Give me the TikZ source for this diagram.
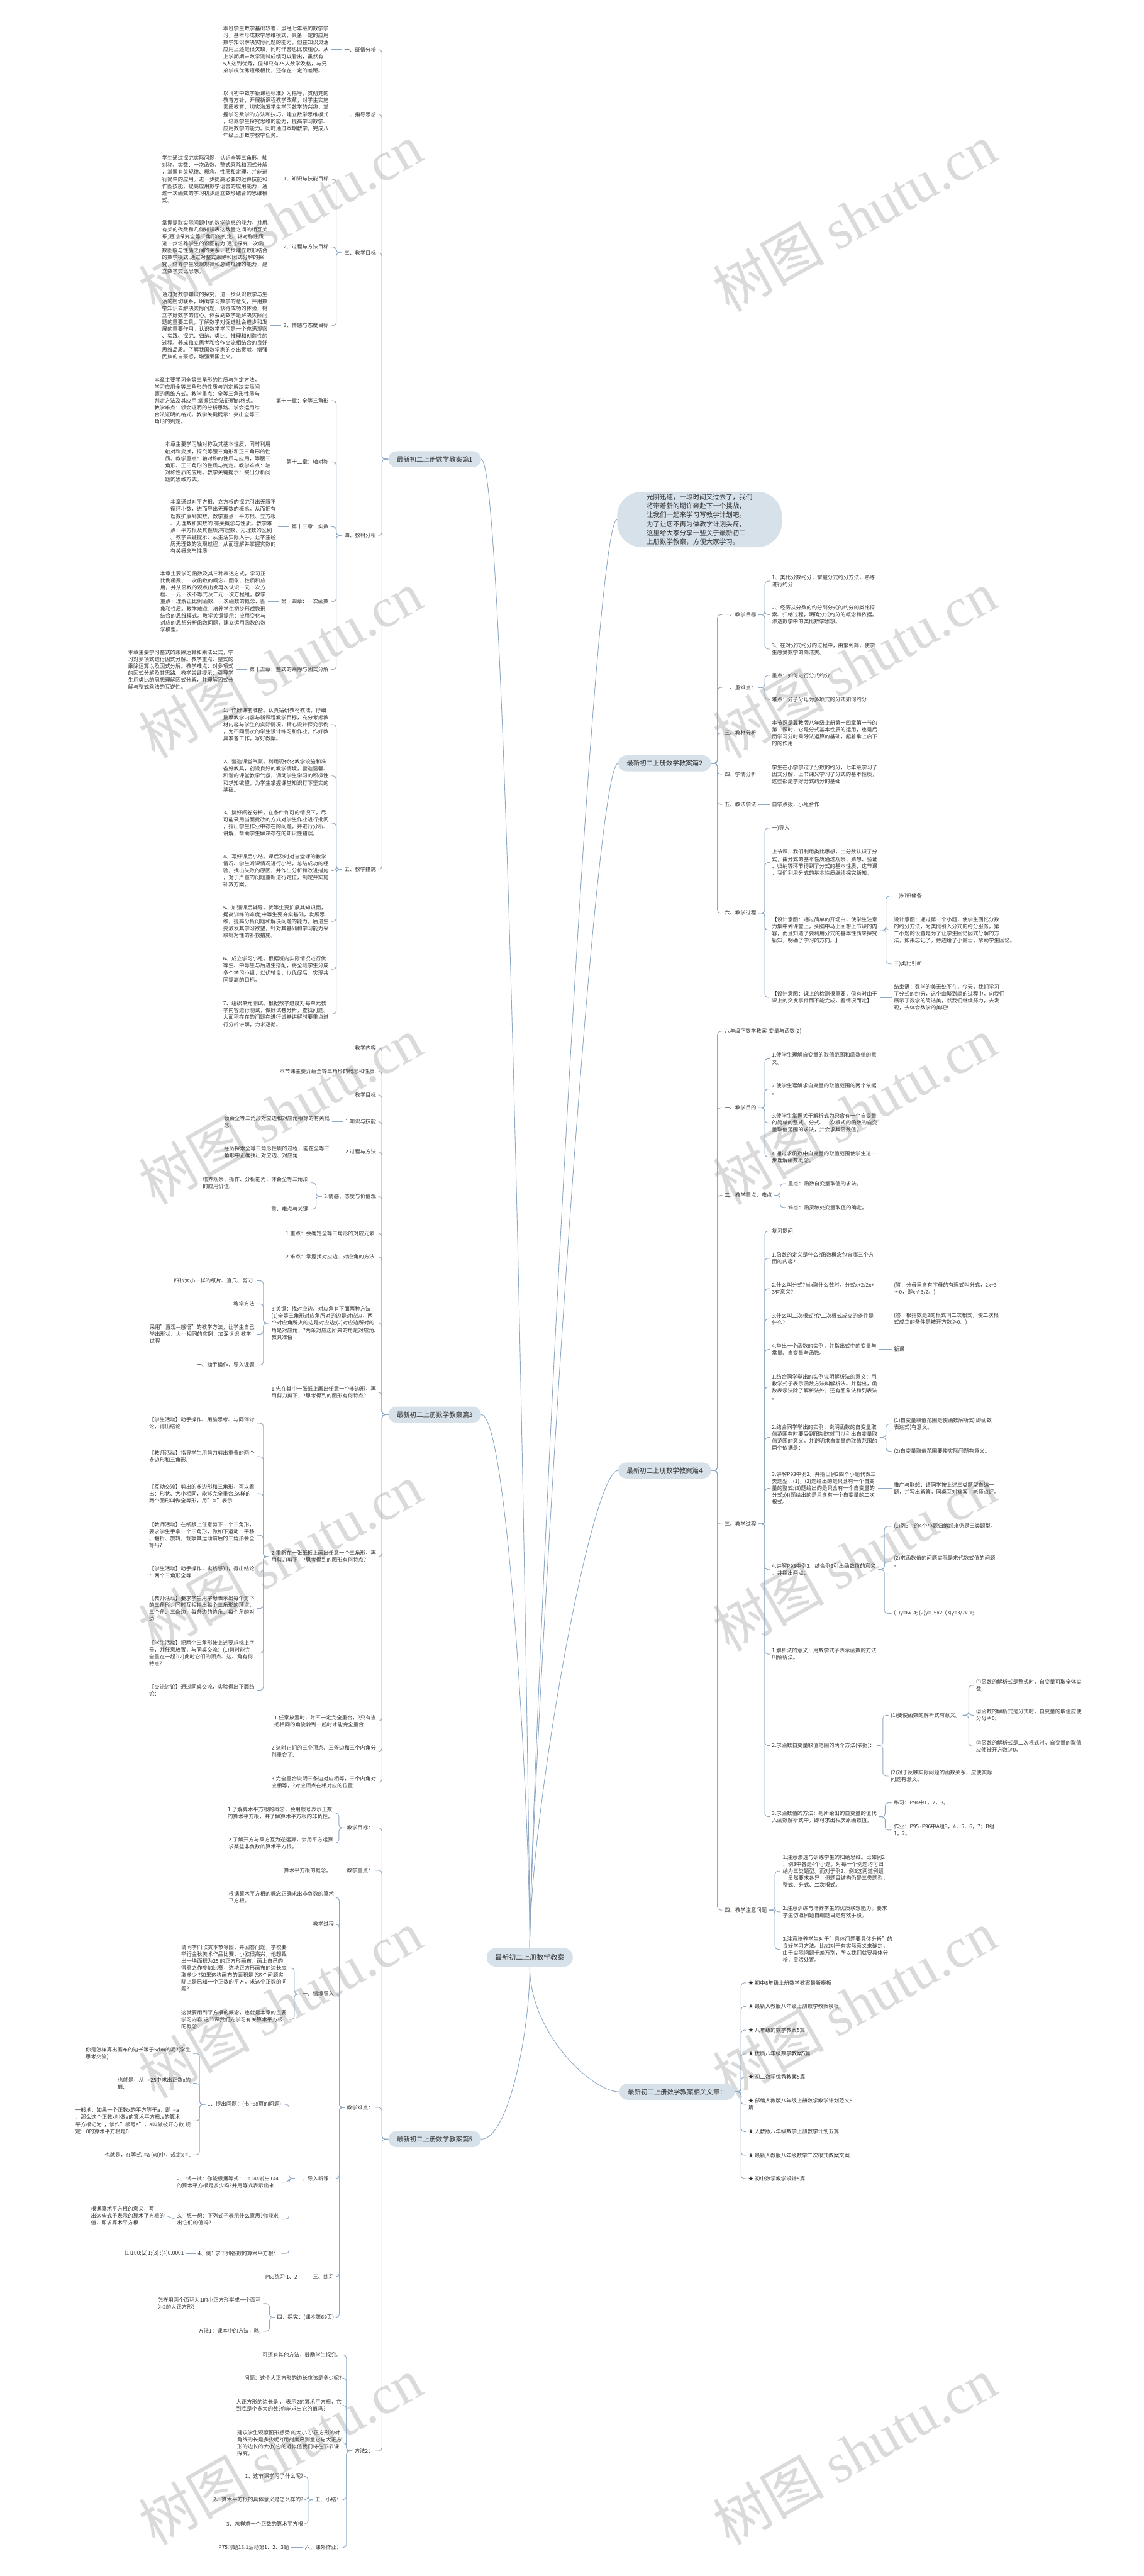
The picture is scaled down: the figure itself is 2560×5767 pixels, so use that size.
\documentclass[tikz,border=0pt]{standalone}
\usepackage{fontspec}
\setmainfont{Noto Sans CJK SC}
\newfontfamily\symfont{DejaVu Sans}
\newfontfamily\wmlatin{Liberation Serif}
\usetikzlibrary{positioning}
\XeTeXlinebreaklocale "zh"
\definecolor{inkc}{RGB}{51,51,51}
\definecolor{linec}{RGB}{140,168,196}
\definecolor{pillc}{RGB}{214,225,234}
\definecolor{wmc}{RGB}{218,218,218}
\newcommand{\bodyfont}{\fontsize{11.8}{15.6}\selectfont}
\newcommand{\pillfont}{\fontsize{14.7}{18}\selectfont}
\newcommand{\introfont}{\fontsize{14.8}{20}\selectfont}
\newcommand{\wmfont}{\fontsize{125}{125}\selectfont}
\tikzset{
  conn/.style={draw=linec, line width=1.3pt, rounded corners=7pt},
  pill/.style={fill=pillc, rounded corners=18pt, minimum height=36pt, inner xsep=19pt, font=\pillfont, text=inkc},
  lbl/.style={inner xsep=5pt, inner ysep=1pt, align=left, font=\bodyfont, text=inkc},
  lt/.style={lbl, anchor=east},
  rt/.style={lbl, anchor=west},
  wm/.style={text=wmc, font=\wmfont, rotate=29.5, anchor=base west, inner sep=0pt}
}

\begin{document}
\begin{tikzpicture}[x=1pt,y=1pt]
\useasboundingbox[fill=white] (0,0) rectangle (2560,-5767);

% watermarks
\foreach \wy in {700,1700,2700,3700,4700,5700}{
  \node[wm] at (347,-\wy) {树图 {\wmlatin shutu.cn}};
  \node[wm] at (1632,-\wy) {树图 {\wmlatin shutu.cn}};
}

% root and intro
\node[pill, font=\fontsize{15.5}{18}\selectfont, minimum height=42pt, rounded corners=21pt] (root) at (1186,-4382) {最新初二上册数学教案};
\node[fill=pillc, rounded corners=55pt, inner xsep=66pt, inner ysep=5pt, align=left, font=\introfont, text=inkc] (intro) at (1566,-1163) {光阴迅速，一段时间又过去了，我们\\将带着新的期许奔赴下一个挑战，\\让我们一起来学习写教学计划吧。\\为了让您不再为做教学计划头疼，\\这里给大家分享一些关于最新初二\\上册数学教案，方便大家学习。};

% ---------------- 篇1 ----------------
\node[pill, anchor=west] (b1) at (869,-1028) {最新初二上册数学教案篇1};
\node[lt] (b1a) at (847,-111) {一、班情分析};
\node[lt] (b1b) at (847,-256) {二、指导思想};
\node[lt] (b1c) at (847,-566) {三、教学目标};
\node[lt] (b1d) at (847,-1199) {四、教材分析};
\node[lt] (b1e) at (847,-1946) {五、教学措施};

\node[lt] (b1a1) at (741,-111) {本班学生数学基础较差，虽经七年级的数学学\\习，基本形成数学思维模式，具备一定的应用\\数学知识解决实际问题的能力，但在知识灵活\\应用上还是很欠缺，同时作答也比较粗心。从\\上学期期末数学测试成绩可以看出，虽然有1\\5人达到优秀，但却只有25人数学及格，与兄\\弟学校优秀班级相比，还存在一定的差距。};
\node[lt] (b1b1) at (741,-256) {以《初中数学新课程标准》为指导，贯彻党的\\教育方针，开展新课程教学改革，对学生实施\\素质教育，切实激发学生学习数学的兴趣，掌\\握学习数学的方法和技巧，建立数学思维模式\\，培养学生探究思维的能力，提高学习数学、\\应用数学的能力。同时通过本期教学，完成八\\年级上册数学教学任务。};

\node[lt] (b1c1) at (741,-401) {1、知识与技能目标};
\node[lt] (b1c2) at (741,-553) {2、过程与方法目标};
\node[lt] (b1c3) at (741,-729) {3、情感与态度目标};
\node[lt] (b1c1t) at (604,-401) {学生通过探究实际问题，认识全等三角形、轴\\对称、实数、一次函数、整式乘除和因式分解\\，掌握有关规律、概念、性质和定理，并能进\\行简单的应用。进一步提高必要的运算技能和\\作图技能，提高应用数学语言的应用能力，通\\过一次函数的学习初步建立数形结合的思维模\\式。};
\node[lt] (b1c2t) at (604,-553) {掌握提取实际问题中的数学信息的能力，并用\\有关的代数和几何知识表达数量之间的相互关\\系;通过探究全等三角形的判定、轴对称性质\\进一步培养学生的识图能力;通过探究一次函\\数图象与性质之间的关系，初步建立数形结合\\的数学模式;通过对整式乘除和因式分解的探\\究，培养学生发现规律和总结规律的能力，建\\立数学类比思想。};
\node[lt] (b1c3t) at (604,-729) {通过对数学知识的探究，进一步认识数学与生\\活的密切联系，明确学习数学的意义，并用数\\学知识去解决实际问题，获得成功的体验，树\\立学好数学的信心。体会到数学是解决实际问\\题的重要工具，了解数学对促进社会进步和发\\展的重要作用。认识数学学习是一个充满观察\\、实践、探究、归纳、类比、推理和创造性的\\过程。养成独立思考和合作交流相结合的良好\\思维品质。了解我国数学家的杰出贡献，增强\\民族的自豪感，增强爱国主义。};

\node[lt] (b1d1) at (741,-897) {第十一章：全等三角形};
\node[lt] (b1d2) at (741,-1034) {第十二章：轴对称};
\node[lt] (b1d3) at (741,-1179) {第十三章：实数};
\node[lt] (b1d4) at (741,-1347) {第十四章：一次函数};
\node[lt] (b1d5) at (741,-1499) {第十五章：整式的乘除与因式分解};
\node[lt] (b1d1t) at (587,-897) {本章主要学习全等三角形的性质与判定方法，\\学习应用全等三角形的性质与判定解决实际问\\题的思维方式。教学重点：全等三角形性质与\\判定方法及其应用;掌握综合法证明的格式。\\教学难点：领会证明的分析思路、学会运用综\\合法证明的格式。教学关键提示：突出全等三\\角形的判定。};
\node[lt] (b1d2t) at (611,-1034) {本章主要学习轴对称及其基本性质，同时利用\\轴对称变换，探究等腰三角形和正三角形的性\\质。教学重点：轴对称的性质与应用，等腰三\\角形、正三角形的性质与判定。教学难点：轴\\对称性质的应用。教学关键提示：突出分析问\\题的思维方式。};
\node[lt] (b1d3t) at (623,-1179) {本章通过对平方根、立方根的探究引出无限不\\循环小数，进而导出无理数的概念，从而把有\\理数扩展到实数。教学重点：平方根、立方根\\、无理数和实数的.有关概念与性质。教学难\\点：平方根及其性质;有理数、无理数的区别\\。教学关键提示：从生活实际入手，让学生经\\历无理数的发现过程，从而理解并掌握实数的\\有关概念与性质。};
\node[lt] (b1d4t) at (600,-1347) {本章主要学习函数及其三种表达方式，学习正\\比例函数、一次函数的概念、图象、性质和应\\用，并从函数的观点出发再次认识一元一次方\\程、一元一次不等式及二元一次方程组。教学\\重点：理解正比例函数、一次函数的概念、图\\象和性质。教学难点：培养学生初步形成数形\\结合的思维模式。教学关键提示：应用变化与\\对应的思想分析函数问题，建立运用函数的数\\学模型。};
\node[lt] (b1d5t) at (528,-1499) {本章主要学习整式的乘除运算和乘法公式，学\\习对多项式进行因式分解。教学重点：整式的\\乘除运算以及因式分解。教学难点：对多项式\\的因式分解及其思路。教学关键提示：引导学\\生用类比的思想理解因式分解，并理解因式分\\解与整式乘法的互逆性。};

\node[lt] (b1e1) at (741,-1622) {1、作好课前准备。认真钻研教材教法，仔细\\揣摩教学内容与新课程教学目标，充分考虑教\\材内容与学生的实际情况，精心设计探究示例\\，为不同层次的学生设计练习和作业，作好教\\具准备工作，写好教案。};
\node[lt] (b1e2) at (741,-1737) {2、营造课堂气氛。利用现代化教学设施和准\\备好教具，创设良好的教学情境，营造温馨、\\和谐的课堂教学气氛，调动学生学习的积极性\\和求知欲望，为学生掌握课堂知识打下坚实的\\基础。};
\node[lt] (b1e3) at (741,-1843) {3、搞好阅卷分析。在条件许可的情况下，尽\\可能采用当面批改的方式对学生作业进行批阅\\，指出学生作业中存在的问题，并进行分析、\\讲解，帮助学生解决存在的知识性错误。};
\node[lt] (b1e4) at (741,-1949) {4、写好课后小结。课后及时对当堂课的教学\\情况、学生听课情况进行小结，总结成功的经\\验，找出失败的原因，并作出分析和改进措施\\，对于严重的问题重新进行定位，制定并实施\\补救方案。};
\node[lt] (b1e5) at (741,-2063) {5、加强课后辅导。优等生要扩展其知识面，\\提高训练的难度;中等生要夯实基础，发展思\\维，提高分析问题和解决问题的能力，后进生\\要激发其学习欲望，针对其基础和学习能力采\\取针对性的补救措施。};
\node[lt] (b1e6) at (741,-2170) {6、成立学习小组。根据班内实际情况进行优\\等生、中等生与后进生搭配，将全班学生分成\\多个学习小组，以优辅良，以优促后，实现共\\同提高的目标。};
\node[lt] (b1e7) at (741,-2270) {7、组织单元测试。根据教学进度对每单元教\\学内容进行测试，做好试卷分析，查找问题。\\大面积存在的问题在进行试卷讲解时要重点进\\行分析讲解，力求透彻。};

\foreach \c in {b1a,b1b,b1c,b1d,b1e} \draw[conn] (b1.west) -- ++(-14,0) |- (\c.east);
\draw[conn] (b1a.west) -- (b1a1.east);
\draw[conn] (b1b.west) -- (b1b1.east);
\foreach \c in {b1c1,b1c2,b1c3} \draw[conn] (b1c.west) -- ++(-13,0) |- (\c.east);
\foreach \c in {1,2,3} \draw[conn] (b1c\c.west) -- (b1c\c t.east);
\foreach \c in {b1d1,b1d2,b1d3,b1d4,b1d5} \draw[conn] (b1d.west) -- ++(-13,0) |- (\c.east);
\foreach \c in {1,...,5} \draw[conn] (b1d\c.west) -- (b1d\c t.east);
\foreach \c in {b1e1,b1e2,b1e3,b1e4,b1e5,b1e6,b1e7} \draw[conn] (b1e.west) -- ++(-13,0) |- (\c.east);

% ---------------- 篇3 ----------------
\node[pill, anchor=west] (b3) at (869,-3167) {最新初二上册数学教案篇3};
\node[lt] (b3a) at (847,-2346) {教学内容};
\node[lt] (b3b) at (847,-2398) {本节课主要介绍全等三角形的概念和性质.};
\node[lt] (b3c) at (847,-2451) {教学目标};
\node[lt] (b3d) at (847,-2511) {1.知识与技能};
\node[lt] (b3e) at (847,-2579) {2.过程与方法};
\node[lt] (b3f) at (847,-2678) {3.情感、态度与价值观};
\node[lt] (b3g) at (847,-2761) {1.重点：会确定全等三角形的对应元素.};
\node[lt] (b3h) at (847,-2814) {2.难点：掌握找对应边、对应角的方法.};
\node[lt] (b3i) at (847,-2962) {3.关键：找对应边、对应角有下面两种方法：\\(1)全等三角形对应角所对的边是对应边，两\\个对应角所夹的边是对应边;(2)对应边所对的\\角是对应角，?两条对应边所夹的角是对应角.\\教具准备};
\node[lt] (b3j) at (847,-3117) {1.先在其中一张纸上画出任意一个多边形，再\\用剪刀剪下，?思考得到的图形有何特点?};
\node[lt] (b3k) at (847,-3485) {2.重新在一张纸板上画出任意一个三角形，再\\用剪刀剪下，?思考得到的图形有何特点?};
\node[lt] (b3l) at (847,-3853) {1.任意放置时，并不一定完全重合，?只有当\\把相同的角旋转到一起时才能完全重合.};
\node[lt] (b3m) at (847,-3921) {2.这时它们的三个顶点、三条边和三个内角分\\别重合了.};
\node[lt] (b3n) at (847,-3990) {3.完全重合说明三条边对应相等，三个内角对\\应相等，?对应顶点在相对应的位置.};

\node[lt] (b3d1) at (743,-2511) {领会全等三角形对应边和对应角相等的有关概\\念.};
\node[lt] (b3e1) at (743,-2579) {经历探索全等三角形性质的过程，能在全等三\\角形中正确找出对应边、对应角.};
\node[lt] (b3f1) at (695,-2648) {培养观察、操作、分析能力，体会全等三角形\\的应用价值.};
\node[lt] (b3f2) at (695,-2707) {重、难点与关键};
\node[lt] (b3i1) at (575,-2867) {四张大小一样的纸片、直尺、剪刀.};
\node[lt] (b3i2) at (575,-2919) {教学方法};
\node[lt] (b3i3) at (575,-2987) {采用"直观—感悟"的教学方法，让学生自己\\举出形状、大小相同的实例，加深认识.教学\\过程};
\node[lt] (b3i4) at (575,-3056) {一、动手操作，导入课题};
\node[lt] (b3k1) at (575,-3186) {【学生活动】动手操作、用脑思考、与同伴讨\\论，得出结论.};
\node[lt] (b3k2) at (575,-3261) {【教师活动】指导学生用剪刀剪出重叠的两个\\多边形和三角形.};
\node[lt] (b3k3) at (575,-3344) {【互动交流】剪出的多边形和三角形，可以看\\出：形状、大小相同，能够完全重合.这样的\\两个图形叫做全等形，用"{\symfont ≅}"表示.};
\node[lt] (b3k4) at (575,-3437) {【教师活动】在纸版上任意剪下一个三角形，\\要求学生手拿一个三角形，做如下运动：平移\\、翻折、旋转，观察其运动前后的三角形会全\\等吗?};
\node[lt] (b3k5) at (575,-3519) {【学生活动】动手操作，实践感知，得出结论\\：两个三角形全等.};
\node[lt] (b3k6) at (575,-3601) {【教师活动】要求学生用字母表示出每个剪下\\的三角形，同时互相指出每个三角形的顶点、\\三个角、三条边、每条边的边角、每个角的对\\边.};
\node[lt] (b3k7) at (575,-3701) {【学生活动】把两个三角形按上述要求标上字\\母，并任意放置，与同桌交流：(1)何时能完\\全重在一起?(2)此时它们的顶点、边、角有何\\特点?};
\node[lt] (b3k8) at (575,-3784) {【交流讨论】通过同桌交流，实验得出下面结\\论：};

\foreach \c in {b3a,b3b,b3c,b3d,b3e,b3f,b3g,b3h,b3i,b3j,b3k,b3l,b3m,b3n} \draw[conn] (b3.west) -- ++(-14,0) |- (\c.east);
\draw[conn] (b3d.west) -- (b3d1.east);
\draw[conn] (b3e.west) -- (b3e1.east);
\foreach \c in {b3f1,b3f2} \draw[conn] (b3f.west) -- ++(-13,0) |- (\c.east);
\foreach \c in {b3i1,b3i2,b3i3,b3i4} \draw[conn] (b3i.west) -- ++(-13,0) |- (\c.east);
\foreach \c in {b3k1,b3k2,b3k3,b3k4,b3k5,b3k6,b3k7,b3k8} \draw[conn] (b3k.west) -- ++(-13,0) |- (\c.east);

% ---------------- 篇5 ----------------
\node[pill, anchor=west] (b5) at (869,-4789) {最新初二上册数学教案篇5};
\node[lt] (b5a) at (841,-4092) {教学目标：};
\node[lt] (b5b) at (841,-4187) {教学重点：};
\node[lt] (b5c) at (841,-4718) {教学难点：};
\node[lt] (b5d) at (841,-5487) {方法2：};

\node[lt] (b5a1) at (751,-4059) {1.了解算术平方根的概念，会用根号表示正数\\的算术平方根，并了解算术平方根的非负性。};
\node[lt] (b5a2) at (751,-4126) {2.了解开方与乘方互为逆运算，会用平方运算\\求某些非负数的算术平方根。};
\node[lt] (b5b1) at (747,-4187) {算术平方根的概念。};

\node[lt] (b5c1) at (753,-4248) {根据算术平方根的概念正确求出非负数的算术\\平方根。};
\node[lt] (b5c2) at (753,-4308) {教学过程};
\node[lt] (b5c3) at (753,-4464) {一、情境导入};
\node[lt] (b5c4) at (753,-4877) {二、导入新课：};
\node[lt] (b5c5) at (753,-5097) {三、练习};
\node[lt] (b5c6) at (753,-5188) {四、探究：(课本第69页)};

\node[lt] (b5c31) at (647,-4406) {请同学们欣赏本节导图，并回答问题，学校要\\举行金秋美术作品比赛，小欧很高兴，他想裁\\出一块面积为25 的正方形画布，画上自己的\\得意之作参加比赛，这块正方形画布的边长应\\取多少 ?如果这块画布的面积是 ?这个问题实\\际上是已知一个正数的平方，求这个正数的问\\题?};
\node[lt] (b5c32) at (647,-4521) {这就要用到平方根的概念，也就是本章的主要\\学习内容.这节课我们先学习有关算术平方根\\的概念.};

\node[lt] (b5c41) at (635,-4711) {1、提出问题：(书P68页的问题)};
\node[lt] (b5c42) at (629,-4885) {2、\ 试一试：你能根据等式：\ \ \ =144说出144\\的算术平方根是多少吗?并用等式表示出来.};
\node[lt] (b5c43) at (629,-4968) {3、\ 想一想：下列式子表示什么意思?你能求\\出它们的值吗?};
\node[lt] (b5c44) at (629,-5045) {4、例1 求下列各数的算术平方根：};

\node[lt] (b5c411) at (432,-4597) {你是怎样算出画布的边长等于5dm的呢?(学生\\思考交流)};
\node[lt] (b5c412) at (432,-4664) {也就是，从\ \ \ =25中求出正数x的\\值.};
\node[lt] (b5c413) at (432,-4748) {一般地，如果一个正数x的平方等于a，即\ \ =a\\，那么这个正数x叫做a的算术平方根.a的算术\\平方根记为\ \ ，读作"根号a"，a叫做被开方数.规\\定：0的算术平方根是0.};
\node[lt] (b5c414) at (432,-4824) {也就是，在等式\ \ =a (x0)中，规定x = .};
\node[lt] (b5c431) at (374,-4961) {根据算术平方根的意义，写\\出这些式子表示的算术平方根的\\值，即求算术平方根};
\node[lt] (b5c441) at (417,-5045) {(1)100;(2)1;(3) ;(4)0.0001};

\node[lt] (b5c51) at (671,-5097) {P69练习 1、2};
\node[lt] (b5c61) at (589,-5157) {怎样用两个面积为1的小正方形拼成一个面积\\为2的大正方形?};
\node[lt] (b5c62) at (589,-5219) {方法1：课本中的方法，略;};

\node[lt] (b5d1) at (770,-5272) {可还有其他方法，鼓励学生探究。};
\node[lt] (b5d2) at (770,-5324) {问题：这个大正方形的边长应该是多少呢?};
\node[lt] (b5d3) at (770,-5385) {大正方形的边长是\ ，\ 表示2的算术平方根，它\\到底是个多大的数?你能求出它的值吗?};
\node[lt] (b5d4) at (770,-5469) {建议学生观察图形感受 的大小.小正方形的对\\角线的长是多少呢?(用刻度尺测量它与大正方\\形的边长的大小)它的近似值我们将在下节课\\探究。};
\node[lt] (b5d5) at (770,-5596) {五、小结：};
\node[lt] (b5d6) at (770,-5703) {六、课外作业：};
\node[lt] (b5d51) at (684,-5544) {1、这节课学习了什么呢?};
\node[lt] (b5d52) at (684,-5596) {2、算术平方根的具体意义是怎么样的?};
\node[lt] (b5d53) at (684,-5650) {3、怎样求一个正数的算术平方根};
\node[lt] (b5d61) at (652,-5703) {P75习题13.1活动第1、2、3题};

\foreach \c in {b5a,b5b,b5c,b5d} \draw[conn] (b5.west) -- ++(-14,0) |- (\c.east);
\foreach \c in {b5a1,b5a2} \draw[conn] (b5a.west) -- ++(-13,0) |- (\c.east);
\draw[conn] (b5b.west) -- (b5b1.east);
\foreach \c in {b5c1,b5c2,b5c3,b5c4,b5c5,b5c6} \draw[conn] (b5c.west) -- ++(-12,0) |- (\c.east);
\foreach \c in {b5c31,b5c32} \draw[conn] (b5c3.west) -- ++(-13,0) |- (\c.east);
\foreach \c in {b5c41,b5c42,b5c43,b5c44} \draw[conn] (b5c4.west) -- ++(-13,0) |- (\c.east);
\foreach \c in {b5c411,b5c412,b5c413,b5c414} \draw[conn] (b5c41.west) -- ++(-13,0) |- (\c.east);
\draw[conn] (b5c43.west) -- (b5c431.east);
\draw[conn] (b5c44.west) -- (b5c441.east);
\draw[conn] (b5c5.west) -- (b5c51.east);
\foreach \c in {b5c61,b5c62} \draw[conn] (b5c6.west) -- ++(-12,0) |- (\c.east);
\foreach \c in {b5d1,b5d2,b5d3,b5d4,b5d5,b5d6} \draw[conn] (b5d.west) -- ++(-13,0) |- (\c.east);
\foreach \c in {b5d51,b5d52,b5d53} \draw[conn] (b5d5.west) -- ++(-11,0) |- (\c.east);
\draw[conn] (b5d6.west) -- (b5d61.east);

% ---------------- 篇2 ----------------
\node[pill, anchor=east] (b2) at (1592,-1709) {最新初二上册数学教案篇2};
\node[rt] (b2a) at (1617,-1376) {一、教学目标};
\node[rt] (b2b) at (1617,-1539) {二、重难点：};
\node[rt] (b2c) at (1617,-1641) {三、教材分析};
\node[rt] (b2d) at (1617,-1733) {四、学情分析};
\node[rt] (b2e) at (1617,-1801) {五、教法学法};
\node[rt] (b2f) at (1617,-2044) {六、教学过程};

\node[rt] (b2a1) at (1723,-1301) {1、类比分数约分，掌握分式约分方法，熟练\\进行约分};
\node[rt] (b2a2) at (1723,-1376) {2、经历从分数的约分到分式的约分的类比探\\索、归纳过程，明确分式约分的概念和依据。\\渗透数学中的类比数学思想。};
\node[rt] (b2a3) at (1723,-1453) {3、在对分式约分的过程中，由繁到简，使学\\生感受数学的简洁美。};
\node[rt] (b2b1) at (1723,-1512) {重点：如何进行分式约分};
\node[rt] (b2b2) at (1723,-1566) {难点：分子分母为多项式的分式如何约分};
\node[rt] (b2c1) at (1723,-1641) {本节课是冀教版八年级上册第十四章第一节的\\第二课时，它是分式基本性质的运用，也是后\\面学习分时乘除法运算的基础，起着承上启下\\的的作用};
\node[rt] (b2d1) at (1723,-1733) {学生在小学学过了分数的约分，七年级学习了\\因式分解，上节课又学习了分式的基本性质，\\这些都是学好分式约分的基础};
\node[rt] (b2e1) at (1723,-1801) {自学点拨，小组合作};
\node[rt] (b2f1) at (1723,-1854) {一)导入};
\node[rt] (b2f2) at (1723,-1931) {上节课，我们利用类比思想，由分数认识了分\\式，由分式的基本性质通过观察、猜想、验证\\、归纳等环节得到了分式的基本性质，这节课\\，我们利用分式的基本性质继续探究新知。};
\node[rt] (b2f3) at (1723,-2082) {【设计意图：通过简单的开场白，使学生注意\\力集中到课堂上，头脑中马上回想上节课的内\\容，而且知道了要利用分式的基本性质来探究\\新知，明确了学习的方向。】};
\node[rt] (b2f4) at (1723,-2233) {【设计意图：课上的检测很重要，但有时由于\\课上的突发事件而不能完成，看情况而定】};
\node[rt] (b2f31) at (1996,-2006) {二)知识储备};
\node[rt] (b2f32) at (1996,-2082) {设计意图：通过第一个小题，使学生回忆分数\\的约分方法，为类比引入分式的约分服务，第\\二小题的设置是为了让学生回忆因式分解的方\\法，如果忘记了，旁边给了小贴士，帮助学生回忆。};
\node[rt] (b2f33) at (1996,-2158) {三)类比引新};
\node[rt] (b2f41) at (1996,-2233) {结束语：数学的美无处不在，今天，我们学习\\了分式的约分，这个由繁到简的过程中，向我们\\展示了数学的简洁美，然我们继续努力，去发\\现，去体会数学的美吧!};

\foreach \c in {b2a,b2b,b2c,b2d,b2e,b2f} \draw[conn] (b2.east) -- ++(14,0) |- (\c.west);
\foreach \c in {b2a1,b2a2,b2a3} \draw[conn] (b2a.east) -- ++(14,0) |- (\c.west);
\foreach \c in {b2b1,b2b2} \draw[conn] (b2b.east) -- ++(14,0) |- (\c.west);
\draw[conn] (b2c.east) -- (b2c1.west);
\draw[conn] (b2d.east) -- (b2d1.west);
\draw[conn] (b2e.east) -- (b2e1.west);
\foreach \c in {b2f1,b2f2,b2f3,b2f4} \draw[conn] (b2f.east) -- ++(14,0) |- (\c.west);
\foreach \c in {b2f31,b2f32,b2f33} \draw[conn] (b2f3.east) -- ++(14,0) |- (\c.west);
\draw[conn] (b2f4.east) -- (b2f41.west);

% ---------------- 篇4 ----------------
\node[pill, anchor=east] (b4) at (1592,-3292) {最新初二上册数学教案篇4};
\node[rt] (b4a) at (1617,-2309) {八年级下数学教案-变量与函数(2)};
\node[rt] (b4b) at (1617,-2480) {一、教学目的};
\node[rt] (b4c) at (1617,-2676) {二、教学重点、难点};
\node[rt] (b4d) at (1617,-3412) {三、教学过程};
\node[rt] (b4e) at (1617,-4276) {四、教学注意问题};

\node[rt] (b4b1) at (1723,-2370) {1.使学生理解自变量的取值范围和函数值的意\\义。};
\node[rt] (b4b2) at (1723,-2438) {2.使学生理解求自变量的取值范围的两个依据\\。};
\node[rt] (b4b3) at (1723,-2514) {3.使学生掌握关于解析式为只含有一个自变量\\的简单的整式、分式、二次根式的函数的自变\\量取值范围的求法，并会求其函数值。};
\node[rt] (b4b4) at (1723,-2590) {4.通过求函数中自变量的取值范围使学生进一\\步理解函数概念。};
\node[rt] (b4c1) at (1759,-2650) {重点：函数自变量取值的求法。};
\node[rt] (b4c2) at (1759,-2703) {难点：函灵敏处变量取值的确定。};

\node[rt] (b4d1) at (1723,-2756) {复习提问};
\node[rt] (b4d2) at (1723,-2817) {1.函数的定义是什么?函数概念包含哪三个方\\面的内容?};
\node[rt] (b4d3) at (1723,-2885) {2.什么叫分式?当x取什么数时，分式x+2/2x+\\3有意义?};
\node[rt] (b4d4) at (1723,-2953) {3.什么叫二次根式?使二次根式成立的条件是\\什么?};
\node[rt] (b4d5) at (1723,-3021) {4.举出一个函数的实例，并指出式中的变量与\\常量、自变量与函数。};
\node[rt] (b4d6) at (1723,-3105) {1.结合同学举出的实例说明解析法的意义：用\\教学式子表示函数方法叫解析法。并指出，函\\数表示法除了解析法外，还有图象法和列表法\\。};
\node[rt] (b4d7) at (1723,-3218) {2.结合同学举出的实例，说明函数的自变量取\\值范围有时要受到限制这就可以引出自变量取\\值范围的意义，并说明求自变量的取值范围的\\两个依据是：};
\node[rt] (b4d8) at (1723,-3332) {3.讲解P93中例2。并指出例2四个小题代表三\\类题型：(1)，(2)题给出的是只含有一个自变\\量的整式;(3)题给出的是只含有一个自变量的\\分式;(4)题给出的是只含有一个自变量的二次\\根式。};
\node[rt] (b4d9) at (1723,-3514) {4.讲解P93中例3。结合例3引出函数值的意义\\。并指出两点：};
\node[rt] (b4d10) at (1723,-3703) {1.解析法的意义：用数学式子表示函数的方法\\叫解析法。};
\node[rt] (b4d11) at (1723,-3908) {2.求函数自变量取值范围的两个方法(依据)：};
\node[rt] (b4d12) at (1723,-4067) {3.求函数值的方法：把所给出的自变量的值代\\入函数解析式中，即可求出相庆原函数值。};

\node[rt] (b4d31) at (1996,-2885) {(答：分母里含有字母的有理式叫分式，2x+3\\≠0，即x≠3/2。)};
\node[rt] (b4d41) at (1996,-2953) {(答：根指数是2的根式叫二次根式，使二次根\\式成立的条件是被开方数≥0。)};
\node[rt] (b4d51) at (1996,-3021) {新课};
\node[rt] (b4d71) at (1996,-3188) {(1)自变量取值范围是使函数解析式(即函数\\表达式)有意义。};
\node[rt] (b4d72) at (1996,-3249) {(2)自变量取值范围要使实际问题有意义。};
\node[rt] (b4d81) at (1996,-3332) {推广与联想：请同学按上述三类题型自编一\\题，并写出解答，同桌互对答案，老师点评。};
\node[rt] (b4d91) at (1996,-3417) {(1)例3中的4个小题归纳起来仍是三类题型。};
\node[rt] (b4d92) at (1996,-3496) {(2)求函数值的问题实际是求代数式值的问题\\。};
\node[rt] (b4d93) at (1996,-3612) {(1)y=6x-4; (2)y=--5x2; (3)y=3/7x-1;};
\node[rt] (b4d111) at (1989,-3840) {(1)要使函数的解析式有意义。};
\node[rt] (b4d112) at (1989,-3976) {(2)对于反映实际问题的函数关系，应使实际\\问题有意义。};
\node[rt] (b4d1111) at (2180,-3773) {①函数的解析式是整式时，自变量可取全体实\\数;};
\node[rt] (b4d1112) at (2180,-3840) {②函数的解析式是分式时，自变量的取值应使\\分母≠0;};
\node[rt] (b4d1113) at (2180,-3909) {③函数的解析式是二次根式时，自变量的取值\\应使被开方数≥0。};
\node[rt] (b4d121) at (1996,-4036) {练习：P94中1，2，3。};
\node[rt] (b4d122) at (1996,-4097) {作业：P95\textasciitilde P96中A组3，4，5，6，7；B组\\1，2。};

\node[rt] (b4e1) at (1747,-4189) {1.注意渗透与训练学生的归纳思维。比如例2\\、例3中各是4个小题，对每一个例题均可归\\纳为三类题型。而对于例2、例3这两道例题\\，虽然要求各异，但题目结构仍是三类题型：\\整式、分式、二次根式。};
\node[rt] (b4e2) at (1747,-4280) {2.注意训练与培养学生的优质联想能力。要求\\学生仿照例题自编题目是有效手段。};
\node[rt] (b4e3) at (1747,-4364) {3.注意培养学生对于"具体问题要具体分析"的\\良好学习方法。比如对于有实际意义来确定，\\由于实际问题千差万别，所以我们就要具体分\\析，灵活处置。};

\foreach \c in {b4a,b4b,b4c,b4d,b4e} \draw[conn] (b4.east) -- ++(14,0) |- (\c.west);
\foreach \c in {b4b1,b4b2,b4b3,b4b4} \draw[conn] (b4b.east) -- ++(14,0) |- (\c.west);
\foreach \c in {b4c1,b4c2} \draw[conn] (b4c.east) -- ++(13,0) |- (\c.west);
\foreach \c in {b4d1,b4d2,b4d3,b4d4,b4d5,b4d6,b4d7,b4d8,b4d9,b4d10,b4d11,b4d12} \draw[conn] (b4d.east) -- ++(14,0) |- (\c.west);
\draw[conn] (b4d3.east) -- (b4d31.west);
\draw[conn] (b4d4.east) -- (b4d41.west);
\draw[conn] (b4d5.east) -- (b4d51.west);
\foreach \c in {b4d71,b4d72} \draw[conn] (b4d7.east) -- ++(14,0) |- (\c.west);
\draw[conn] (b4d8.east) -- (b4d81.west);
\foreach \c in {b4d91,b4d92,b4d93} \draw[conn] (b4d9.east) -- ++(14,0) |- (\c.west);
\foreach \c in {b4d111,b4d112} \draw[conn] (b4d11.east) -- ++(13,0) |- (\c.west);
\foreach \c in {b4d1111,b4d1112,b4d1113} \draw[conn] (b4d111.east) -- ++(13,0) |- (\c.west);
\foreach \c in {b4d121,b4d122} \draw[conn] (b4d12.east) -- ++(14,0) |- (\c.west);
\foreach \c in {b4e1,b4e2,b4e3} \draw[conn] (b4e.east) -- ++(13,0) |- (\c.west);

% ---------------- 相关文章 ----------------
\node[pill, anchor=east] (rel) at (1645,-4683) {最新初二上册数学教案相关文章：};
\node[rt] (rel1) at (1670,-4439) {★ 初中8年级上册数学教案最新模板};
\node[rt] (rel2) at (1670,-4492) {★ 最新人教版八年级上册数学教案模板};
\node[rt] (rel3) at (1670,-4545) {★ 八年级的数学教案5篇};
\node[rt] (rel4) at (1670,-4598) {★ 优质八年级数学教案5篇};
\node[rt] (rel5) at (1670,-4650) {★ 初二数学优秀教案5篇};
\node[rt] (rel6) at (1670,-4711) {★ 部编人教版八年级上册数学教学计划范文5\\篇};
\node[rt] (rel7) at (1670,-4772) {★ 人教版八年级数学上册教学计划五篇};
\node[rt] (rel8) at (1670,-4825) {★ 最新人教版八年级数学二次根式教案文案};
\node[rt] (rel9) at (1670,-4877) {★ 初中数学教学设计5篇};
\foreach \c in {rel1,rel2,rel3,rel4,rel5,rel6,rel7,rel8,rel9} \draw[conn] (rel.east) -- ++(14,0) |- (\c.west);

% root to branches
\draw[conn] (root.north) .. controls +(0,300) and +(60,0) .. (b1.east);
\draw[conn] (root.north) .. controls +(0,300) and +(60,0) .. (b3.east);
\draw[conn] (root.north) .. controls +(0,300) and +(-60,0) .. (b2.west);
\draw[conn] (root.north) .. controls +(0,300) and +(-60,0) .. (b4.west);
\draw[conn] (root.north) .. controls +(0,300) and +(-60,0) .. (intro.west);
\draw[conn] (root.south) .. controls +(0,-150) and +(60,0) .. (b5.east);
\draw[conn] (root.south) .. controls +(0,-150) and +(-60,0) .. (rel.west);
\end{tikzpicture}
\end{document}
